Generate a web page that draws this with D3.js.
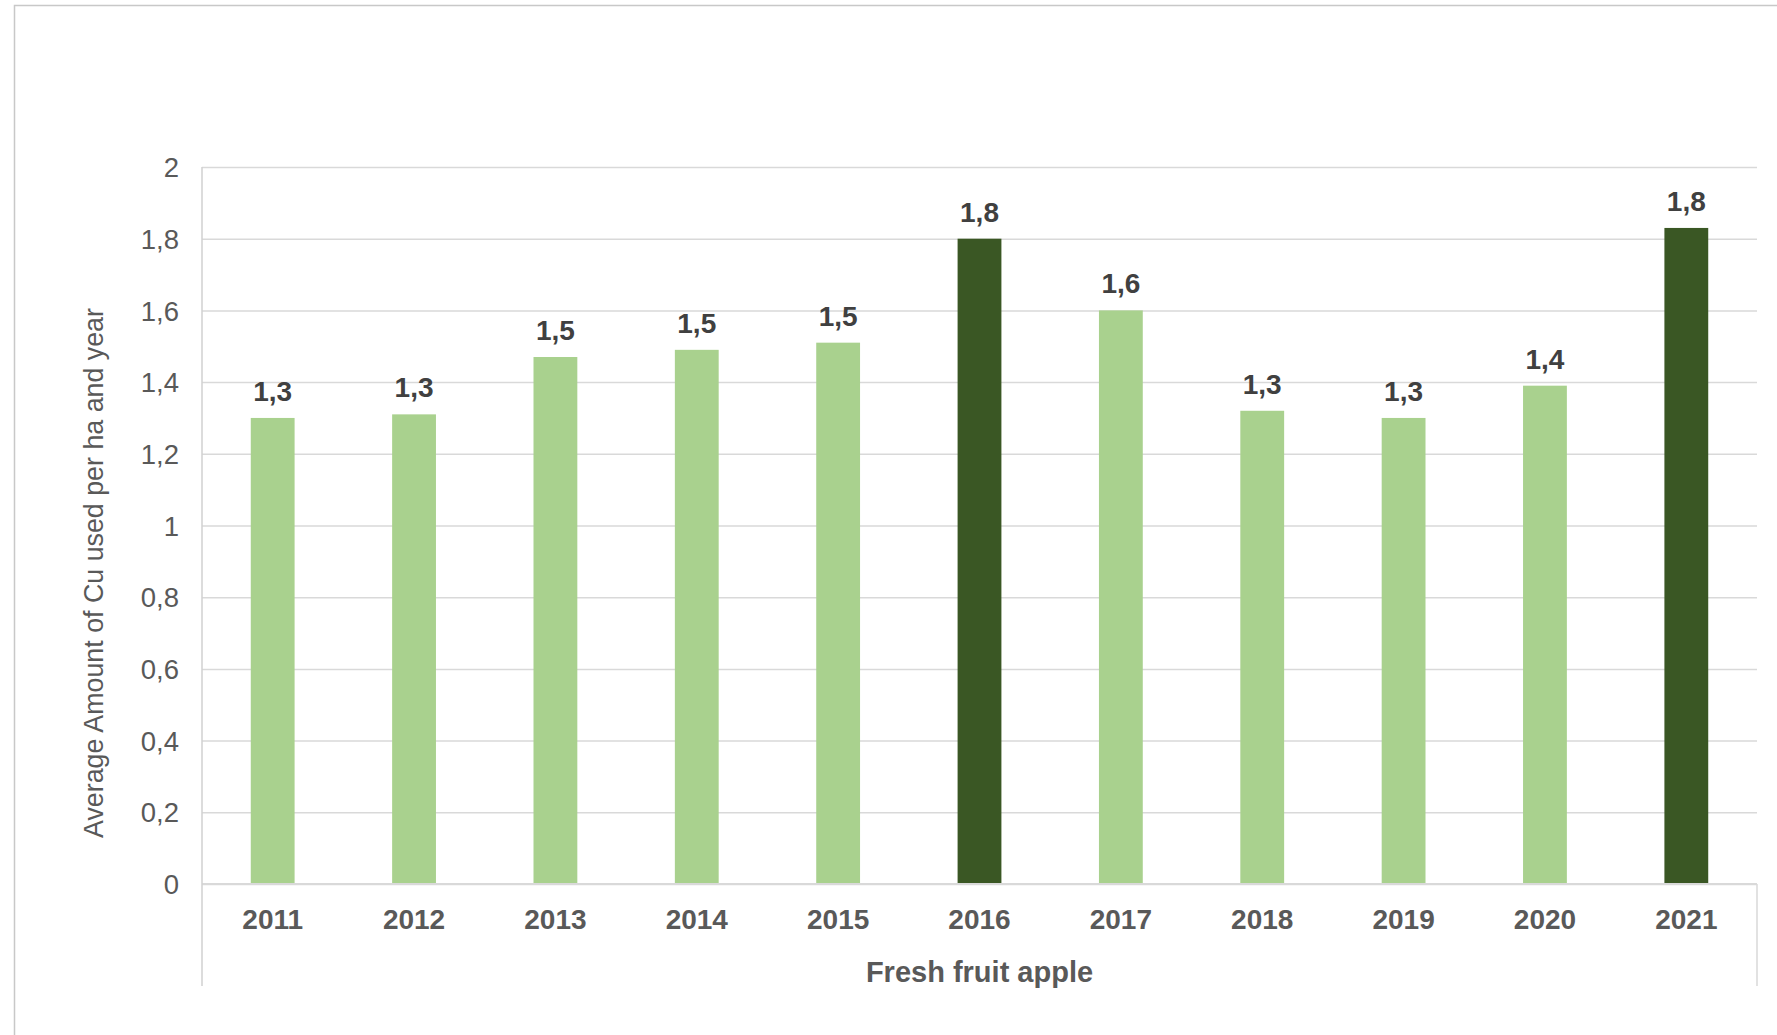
<!DOCTYPE html>
<html>
<head>
<meta charset="utf-8">
<script src="https://cdn.jsdelivr.net/npm/d3@7"></script>
<style>
  html, body { margin: 0; padding: 0; background: #fff; }
  svg { display: block; font-family: "Liberation Sans", Arial, sans-serif; }
</style>
</head>
<body>
<svg id="chart" width="1777" height="1035"></svg>
<script>
// ---- data ----
const categories = ["2011","2012","2013","2014","2015","2016","2017","2018","2019","2020","2021"];
const values = [1.30, 1.31, 1.47, 1.49, 1.51, 1.80, 1.60, 1.32, 1.30, 1.39, 1.83];
const highlighted = ["2016", "2021"];
const yTicks = [0, 0.2, 0.4, 0.6, 0.8, 1, 1.2, 1.4, 1.6, 1.8, 2];
const yTitle = "Average Amount of Cu used per ha and year";
const xTitle = "Fresh fruit apple";

// ---- layout ----
const W = 1777, H = 1035;
const plot = { left: 202, right: 1757, top: 167, bottom: 884 };
const svg = d3.select("#chart");

const loc = d3.formatLocale({ decimal: ",", thousands: ".", grouping: [3], currency: ["", ""] });
const tickFmt = loc.format("~g");
const labelFmt = loc.format(".1f");

const x = d3.scaleBand().domain(categories).range([plot.left, plot.right]).padding(0);
const y = d3.scaleLinear().domain([0, 2]).range([plot.bottom, plot.top]);
const barW = x.bandwidth() * 0.31;

// outer border
svg.append("rect")
  .attr("x", 14.5).attr("y", 5.5)
  .attr("width", W + 20).attr("height", H + 20)
  .attr("fill", "none").attr("stroke", "#C8C8C8").attr("stroke-width", 1.5);

// gridlines
const yAxis = d3.axisLeft(y).tickValues(yTicks).tickFormat(tickFmt)
  .tickSize(-(plot.right - plot.left)).tickPadding(23);
const gy = svg.append("g").attr("transform", `translate(${plot.left},0)`).call(yAxis);
gy.select(".domain").remove();
gy.selectAll(".tick line").attr("stroke", "#D9D9D9").attr("stroke-width", 1.5);
gy.selectAll(".tick text")
  .attr("fill", "#595959").attr("font-size", 27.5).attr("dy", "0.35em");

// bars
svg.append("g").selectAll("rect").data(categories).join("rect")
  .attr("x", (d) => x(d) + (x.bandwidth() - barW) / 2)
  .attr("y", (d, i) => y(values[i]))
  .attr("width", barW)
  .attr("height", (d, i) => y(0) - y(values[i]))
  .attr("fill", (d) => highlighted.includes(d) ? "#3A5724" : "#A9D18E");

// data labels
svg.append("g").selectAll("text").data(categories).join("text")
  .attr("x", (d) => x(d) + x.bandwidth() / 2)
  .attr("y", (d, i) => y(values[i]) - 17)
  .attr("text-anchor", "middle")
  .attr("font-size", 28).attr("font-weight", "bold").attr("fill", "#404040")
  .text((d, i) => labelFmt(values[i]));

// category axis
const xAxis = d3.axisBottom(x).tickSize(0).tickPadding(25);
const gx = svg.append("g").attr("transform", `translate(0,${plot.bottom})`).call(xAxis);
gx.select(".domain").remove();
gx.selectAll(".tick text")
  .attr("fill", "#595959").attr("font-size", 28).attr("font-weight", "bold");

// axis lines
svg.append("line").attr("x1", plot.left).attr("x2", plot.right)
  .attr("y1", plot.bottom).attr("y2", plot.bottom)
  .attr("stroke", "#D9D9D9").attr("stroke-width", 2);
svg.append("line").attr("x1", plot.left).attr("x2", plot.left)
  .attr("y1", plot.top).attr("y2", 986)
  .attr("stroke", "#D0D0D0").attr("stroke-width", 1.5);
svg.append("line").attr("x1", plot.right).attr("x2", plot.right)
  .attr("y1", plot.bottom).attr("y2", 986)
  .attr("stroke", "#D9D9D9").attr("stroke-width", 1.5);

// axis titles
svg.append("text")
  .attr("transform", `translate(103,573) rotate(-90)`)
  .attr("text-anchor", "middle")
  .attr("font-size", 26.8).attr("fill", "#595959")
  .text(yTitle);

svg.append("text")
  .attr("x", (plot.left + plot.right) / 2).attr("y", 982)
  .attr("text-anchor", "middle")
  .attr("font-size", 29).attr("font-weight", "bold").attr("fill", "#595959")
  .text(xTitle);
</script>
</body>
</html>
